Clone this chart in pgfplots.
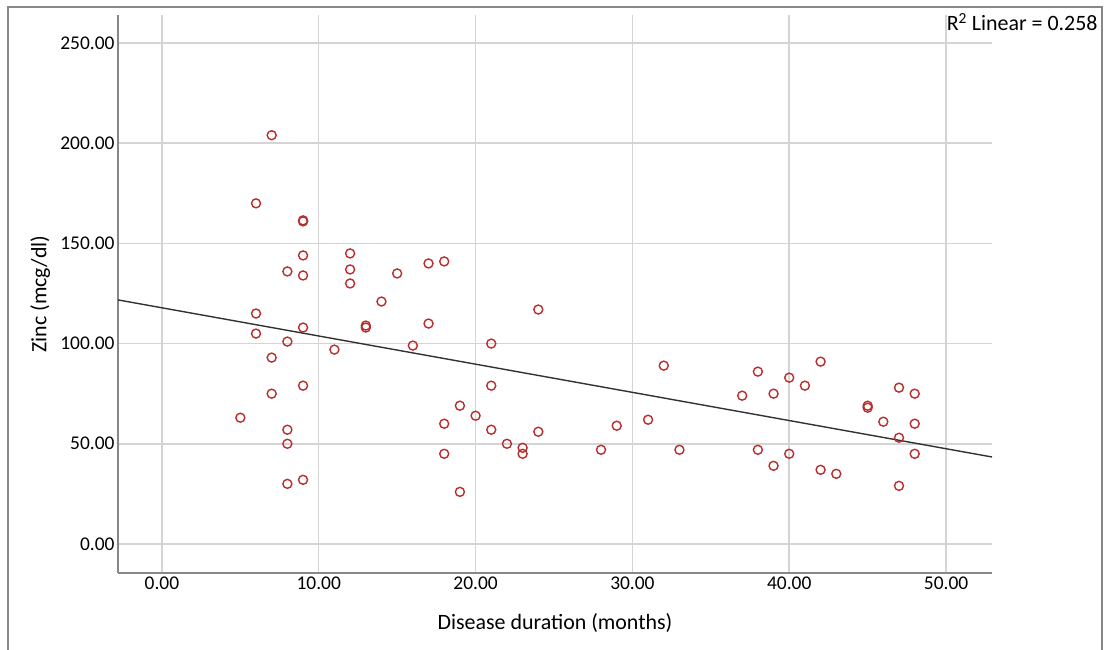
\documentclass[border=0pt]{standalone}
\usepackage{fontspec}
\setmainfont{Carlito}
\usepackage{pgfplots}
\pgfplotsset{compat=1.18}
\definecolor{ptred}{RGB}{185,45,45}
\definecolor{gridgray}{RGB}{212,212,212}
\definecolor{axgray}{RGB}{135,135,135}
\definecolor{fitgray}{RGB}{50,50,50}

\begin{document}
\begin{tikzpicture}
    \useasboundingbox (0bp,0bp) rectangle (1110bp,650bp);
    % outer frame
    \draw[axgray, line width=1.3bp] (8bp,-5bp) -- (8bp,643bp) -- (1102bp,643bp) -- (1102bp,-5bp);

    \begin{axis}[
        at={(118bp,77bp)},
        anchor=south west,
        scale only axis,
        width=874bp,
        height=558bp,
        xmin=-2.8, xmax=52.93,
        ymin=-14.5, ymax=264,
        axis x line*=bottom,
        axis y line*=left,
        axis line style={axgray, line width=1.6bp},
        xtick={0,10,20,30,40,50},
        ytick={0,50,100,150,200,250},
        tick style={draw=none},
        grid=major,
        major grid style={gridgray, line width=1.5bp},
        /pgf/number format/.cd, fixed, fixed zerofill, precision=2, assume math mode=true,
        /pgfplots/.cd,
        tick label style={font=\fontsize{19.5}{23}\selectfont},
        label style={font=\fontsize{22}{26}\selectfont},
        xlabel={Disease duration (months)},
        ylabel={Zinc (mcg/dl)},
        xlabel style={at={(axis description cs:0.5,-0.09)}, anchor=center},
        ylabel style={at={(axis description cs:-0.089,0.5)}, anchor=center},
    ]
        % observations
        \addplot[only marks, mark=o, mark size=4.5bp, mark options={ptred, line width=1.4bp}] coordinates {
            (5,63) (6,170) (6,115) (6,105) (7,204) (7,93) (7,75)
            (8,136) (8,101) (8,57) (8,50) (8,30)
            (9,161) (9,161.5) (9,144) (9,134) (9,108) (9,79) (9,32)
            (11,97) (12,145) (12,137) (12,130) (13,109) (13,108) (14,121)
            (15,135) (16,99) (17,140) (17,110) (18,141) (18,60) (18,45)
            (19,69) (19,26) (20,64) (21,100) (21,79) (21,57) (22,50)
            (23,48) (23,45) (24,117) (24,56) (28,47) (29,59) (31,62)
            (32,89) (33,47) (37,74) (38,86) (38,47) (39,75) (39,39)
            (40,83) (40,45) (41,79) (42,91) (42,37) (43,35) (45,69) (45,68)
            (46,61) (47,78) (47,53) (47,29) (48,75) (48,60) (48,45)
        };
        % linear fit
        \addplot[fitgray, line width=1.4bp] coordinates {(-2.8,121.8) (52.93,43.4)};
    \end{axis}

    \node[anchor=east, font=\fontsize{22}{26}\selectfont] at (1101bp,628bp) {R\textsuperscript{2} Linear = 0.258};
\end{tikzpicture}
\end{document}
